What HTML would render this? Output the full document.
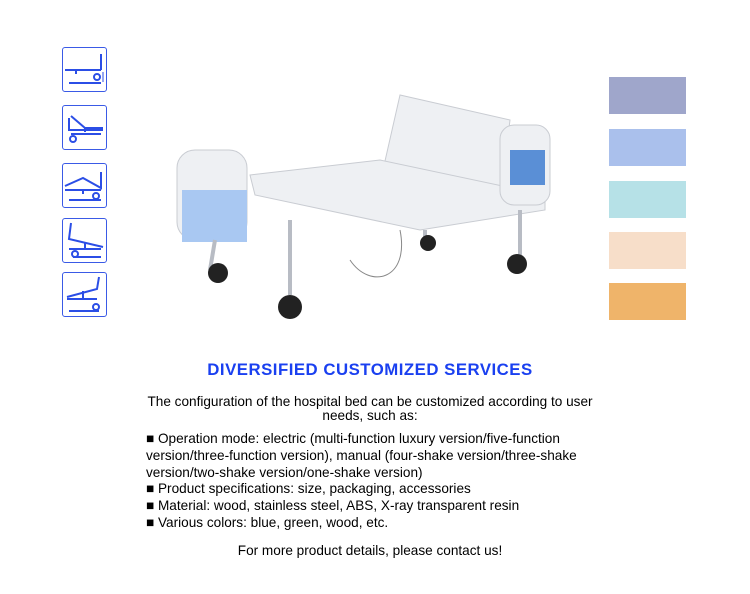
<!DOCTYPE html>
<html><head><style>
body{margin:0;width:750px;height:594px;background:#fff;position:relative;font-family:"Liberation Sans",Arial,sans-serif;overflow:hidden}
.ic{position:absolute;left:62px;width:45px;height:45px;border:1.5px solid #3a5ae6;border-radius:3px;box-sizing:border-box}
.sw{position:absolute;left:609px;width:77px;height:37px}
.t{position:absolute;left:0;width:740px;text-align:center;color:#000}
.l{position:absolute;left:146px;font-size:13.6px;line-height:16.8px;color:#000;white-space:nowrap}
</style></head><body>
<div class="ic" style="top:47px"><svg width="42" height="42"><g stroke="#2b4ee6" stroke-width="2" fill="none"><path d="M2 22H38M13 22V26M38 6V22M6 35H38"/><circle cx="34" cy="29" r="3"/><path d="M40 24V34" stroke-width="1"/></g></svg></div>
<div class="ic" style="top:105px"><svg width="42" height="42"><g stroke="#2b4ee6" stroke-width="2" fill="none"><path d="M8 10L22 22H40M6 12V24H40M22 22V26M8 28H38"/><circle cx="10" cy="33" r="3"/></g></svg></div>
<div class="ic" style="top:163px"><svg width="42" height="42"><g stroke="#2b4ee6" stroke-width="2" fill="none"><path d="M2 22L20 14L38 24V8M2 26H38M20 26V30M6 36H38"/><circle cx="33" cy="32" r="3"/></g></svg></div>
<div class="ic" style="top:218px"><svg width="42" height="42"><g stroke="#2b4ee6" stroke-width="2" fill="none"><path d="M8 4L6 20L40 28M22 24V30M6 30H38M10 38H38"/><circle cx="12" cy="35" r="3"/></g></svg></div>
<div class="ic" style="top:272px"><svg width="42" height="42"><g stroke="#2b4ee6" stroke-width="2" fill="none"><path d="M4 24L34 16L36 4M20 18V26M4 26H34M6 38H36"/><circle cx="33" cy="34" r="3"/></g></svg></div>

<svg style="position:absolute;left:170px;top:90px" width="390" height="235">
<g fill="#eef0f3" stroke="#c9ccd2" stroke-width="1">
<path d="M205 115L230 5L340 30L330 110Z"/>
<path d="M80 85L210 70L375 105L375 120L250 140L85 105Z"/>
<rect x="7" y="60" width="70" height="90" rx="18"/>
<rect x="330" y="35" width="50" height="80" rx="14"/>
</g>
<rect x="12" y="100" width="65" height="52" fill="#a9c8f2"/>
<rect x="340" y="60" width="35" height="35" fill="#5a8fd6"/>
<g stroke="#b8bcc4" stroke-width="4"><line x1="45" y1="150" x2="40" y2="180"/><line x1="120" y1="130" x2="120" y2="205"/><line x1="350" y1="120" x2="350" y2="165"/><line x1="255" y1="140" x2="255" y2="148"/></g>
<g fill="#222"><circle cx="48" cy="183" r="10"/><circle cx="120" cy="217" r="12"/><circle cx="347" cy="174" r="10"/><circle cx="258" cy="153" r="8"/></g>
<path d="M230 140C240 190 200 200 180 170" stroke="#888" fill="none"/>
</svg>

<div class="sw" style="top:77px;background:#9fa6cb"></div>
<div class="sw" style="top:129px;background:#aac0ec"></div>
<div class="sw" style="top:181px;background:#b6e1e7"></div>
<div class="sw" style="top:232px;background:#f7dec9"></div>
<div class="sw" style="top:283px;background:#efb46a"></div>

<div class="t" style="top:360px;font-size:16.8px;font-weight:bold;color:#1a40f0;letter-spacing:0.5px">DIVERSIFIED CUSTOMIZED SERVICES</div>
<div class="t" style="top:395px;font-size:13.6px;line-height:14px">The configuration of the hospital bed can be customized according to user<br>needs, such as:</div>
<div class="l" style="top:431px">■ Operation mode: electric (multi-function luxury version/five-function<br>version/three-function version), manual (four-shake version/three-shake<br>version/two-shake version/one-shake version)<br>■ Product specifications: size, packaging, accessories<br>■ Material: wood, stainless steel, ABS, X-ray transparent resin<br>■ Various colors: blue, green, wood, etc.</div>
<div class="t" style="top:543px;font-size:13.6px">For more product details, please contact us!</div>
</body></html>
